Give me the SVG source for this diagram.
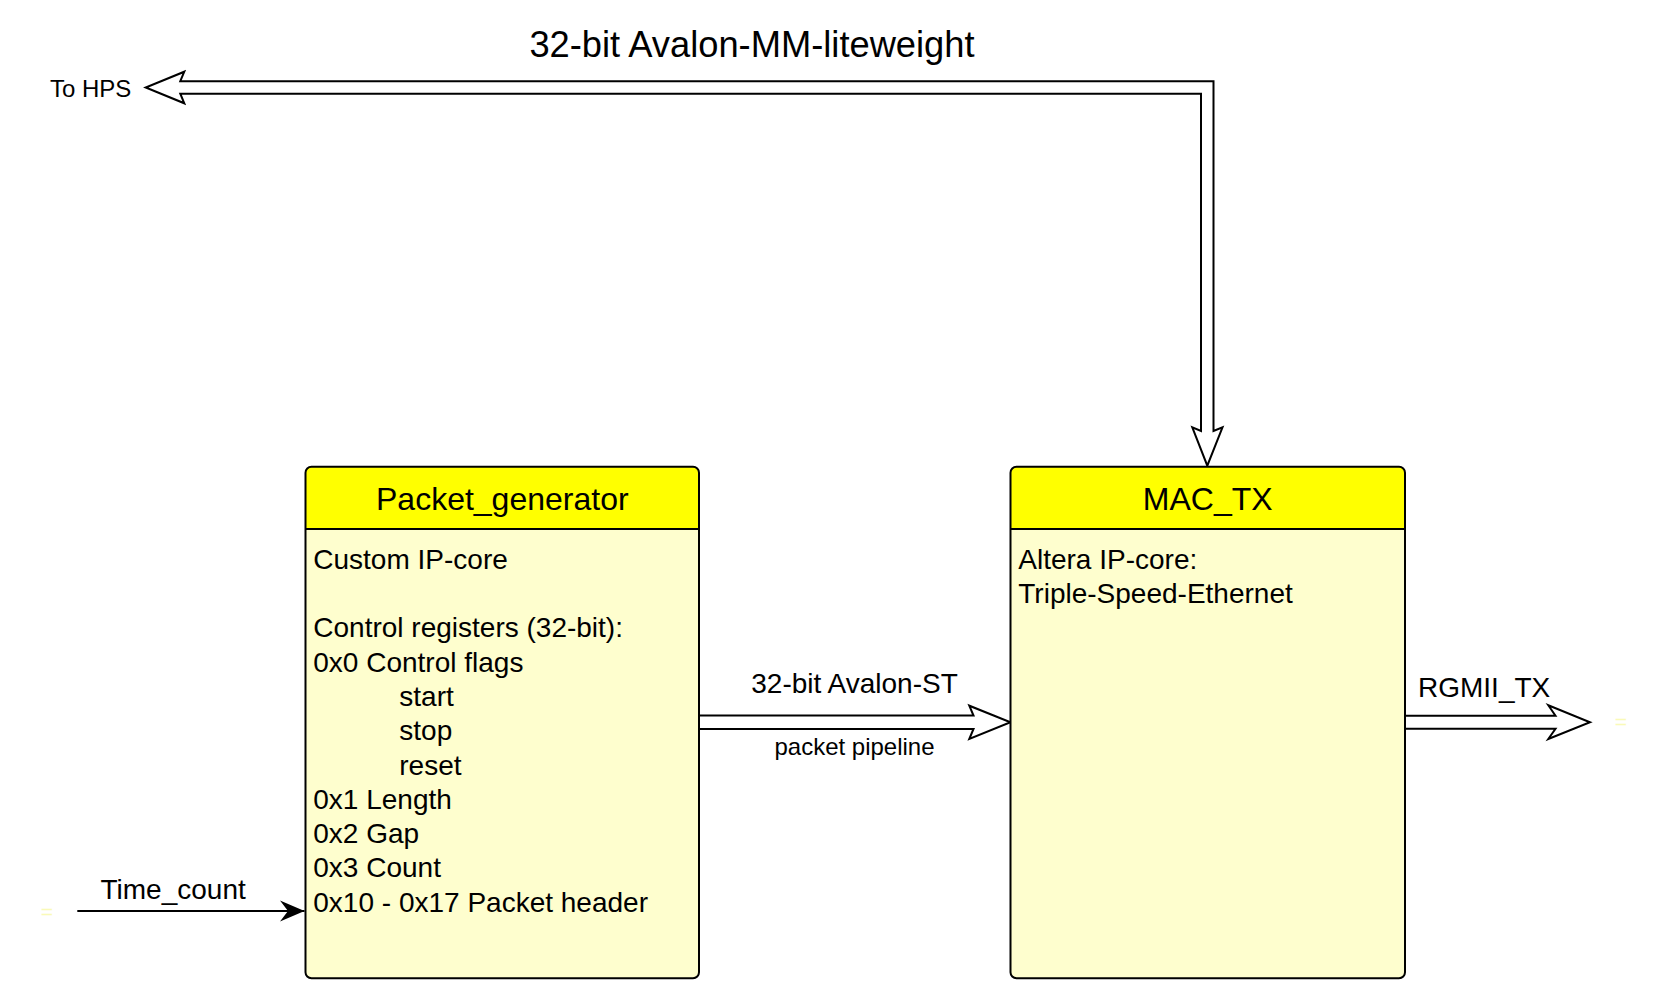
<svg xmlns="http://www.w3.org/2000/svg" width="1668" height="994" viewBox="0 0 1668 994">
<style>
.body{fill:#FEFECE;stroke:none}
.head{fill:#FFFF00;stroke:none}
.outline{fill:none;stroke:#000;stroke-width:2}
.sep{stroke:#000;stroke-width:2}
.txt{font-family:"Liberation Sans",Arial,sans-serif;fill:#000}
.title{font-size:32px;text-anchor:middle}
.b{font-size:28px}
.lbl{font-size:28px}
.small{font-size:24px}
.big{font-size:36.3px}
.pipe{fill:#fff;stroke:#000;stroke-width:2;stroke-linejoin:miter}
.port{font-family:"Liberation Sans",Arial,sans-serif;font-size:21px;fill:#FAFAB8;text-anchor:middle}
</style>
<defs>
<marker id="solid" markerWidth="26" markerHeight="22" refX="25" refY="11" orient="auto" markerUnits="userSpaceOnUse">
<path d="M0.5 0.5 L25 11 L0.5 21.5 L8.5 11 Z" fill="#000"/>
</marker>
</defs>

<g id="connectors">
<path class="pipe" d="M180.3 81.2 L184.3 71.7 L145.7 87.5 L184.3 103.3 L180.3 93.7 L1201 93.7 L1201 431 L1192.3 427.3 L1207.3 465.7 L1222.5 427.3 L1213.5 431 L1213.5 81.2 Z"/>
<path class="pipe" d="M700 715.5 H973.5 L969.3 705.7 L1010.5 722.3 L969.3 739 L973.5 729 H700"/>
<path class="pipe" d="M1405 715.8 H1555.5 L1548.3 705.3 L1590 722.3 L1548.3 739 L1555.5 728.8 H1405"/>
<path d="M77.3 911 H304.5" stroke="#000" stroke-width="2" fill="none" marker-end="url(#solid)"/>
<text class="txt big" x="752" y="57" text-anchor="middle">32-bit Avalon-MM-liteweight</text>
<text class="txt small" x="50" y="97">To HPS</text>
<text class="txt lbl" x="854.5" y="693.3" text-anchor="middle">32-bit Avalon-ST</text>
<text class="txt small" x="854.5" y="755" text-anchor="middle">packet pipeline</text>
<text class="txt lbl" x="1418" y="697.3">RGMII_TX</text>
<text class="txt lbl" x="100.5" y="899.3">Time_count</text>
<text class="port" x="47" y="919">=</text>
<text class="port" x="1621" y="729">=</text>
</g>

<g id="packet_generator">
<rect class="body" x="305.5" y="466.7" width="393.5" height="511.6" rx="6"/>
<path class="head" d="M305.5 529 V472.7 Q305.5 466.7 311.5 466.7 H693 Q699 466.7 699 472.7 V529 Z"/>
<line class="sep" x1="305.5" y1="529" x2="699" y2="529"/>
<rect class="outline" x="305.5" y="466.7" width="393.5" height="511.6" rx="6"/>
<text class="txt title" x="502.3" y="510">Packet_generator</text>
<text class="txt b" x="313.3" y="568.5">Custom IP-core</text>
<text class="txt b" x="313.3" y="637">Control registers (32-bit):</text>
<text class="txt b" x="313.3" y="671.5">0x0 Control flags</text>
<text class="txt b" x="399.3" y="706">start</text>
<text class="txt b" x="399.3" y="740.3">stop</text>
<text class="txt b" x="399.3" y="774.5">reset</text>
<text class="txt b" x="313.3" y="808.7">0x1 Length</text>
<text class="txt b" x="313.3" y="843">0x2 Gap</text>
<text class="txt b" x="313.3" y="877.3">0x3 Count</text>
<text class="txt b" x="313.3" y="911.6">0x10 - 0x17 Packet header</text>
</g>

<g id="mac_tx">
<rect class="body" x="1010.5" y="466.7" width="394.5" height="511.6" rx="6"/>
<path class="head" d="M1010.5 529 V472.7 Q1010.5 466.7 1016.5 466.7 H1399 Q1405 466.7 1405 472.7 V529 Z"/>
<line class="sep" x1="1010.5" y1="529" x2="1405" y2="529"/>
<rect class="outline" x="1010.5" y="466.7" width="394.5" height="511.6" rx="6"/>
<text class="txt title" x="1207.7" y="510">MAC_TX</text>
<text class="txt b" x="1018.3" y="568.5">Altera IP-core:</text>
<text class="txt b" x="1018.3" y="603">Triple-Speed-Ethernet</text>
</g>
</svg>
